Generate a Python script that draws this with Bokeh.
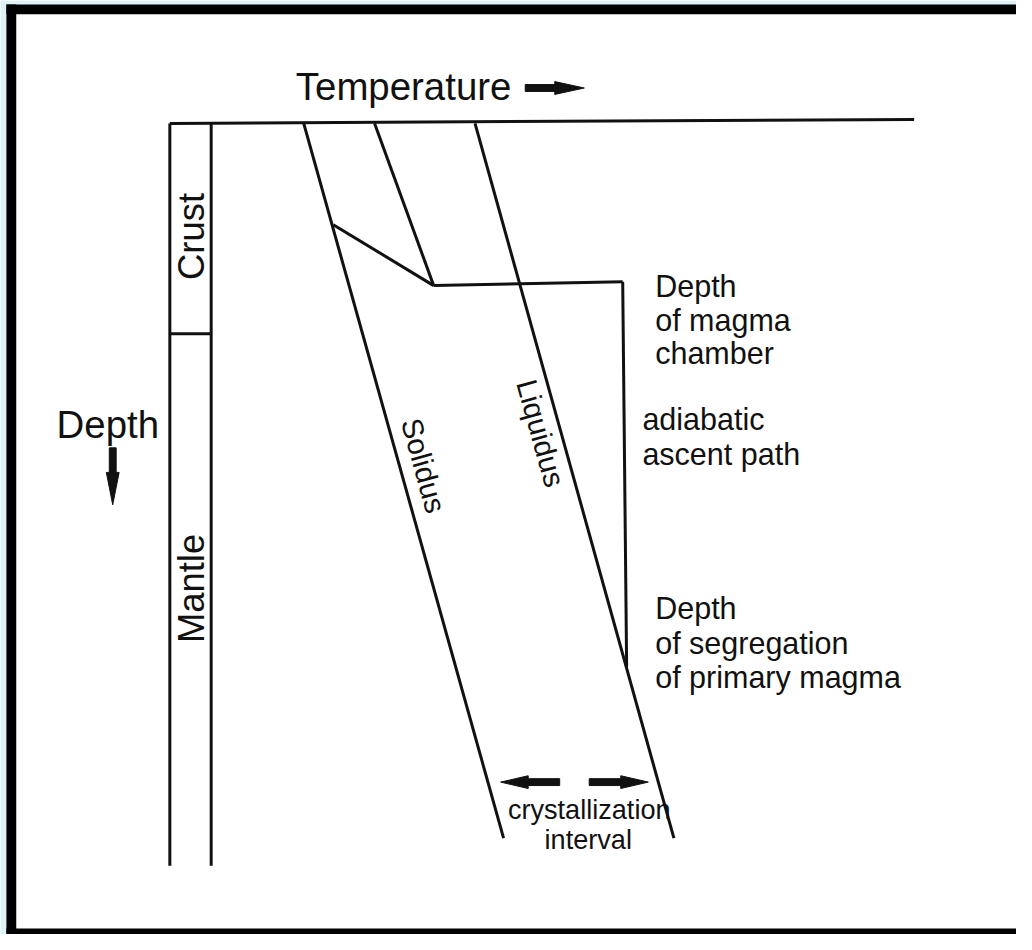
import math
from bokeh.plotting import figure
from bokeh.models import Range1d
from bokeh.core.properties import value
from bokeh.embed import file_html
from bokeh.resources import INLINE

FONT = "Liberation Sans"
INK = "#111111"
W, H = 1016, 934
REF_W, REF_H = 1032, 950
S = W / REF_W  # font scale so that the drawing maps onto the reference frame


def px(n):
    return f"{n * S:.1f}px"

# ---- diagram data (reference pixel coordinates; depth increases downward) ----
column_x = [172, 214]
column_top = [125, 125]
column_bottom = [880, 880]
crust_base = 339

surface_x = [172, 928]
surface_y = [125, 121]

solidus_x = [308, 511]
solidus_y = [125, 852]
liquidus_x = [482, 684]
liquidus_y = [125, 852]
upper_x = [380, 440]
upper_y = [125, 290]
kink_x = [338, 440]
kink_y = [228, 290]
chamber_x = [440, 632]
chamber_y = [290, 286]
ascent_x = [632, 636]
ascent_y = [286, 678]

# arrows: tail x, tail y, tip x, tip y, body half width, head length, head half width
arrow_tail_x = [533, 114, 568, 598]
arrow_tail_y = [89, 455, 795, 795]
arrow_tip_x = [593, 114, 508, 658]
arrow_tip_y = [89, 513, 795, 795]
arrow_body = [3.5, 3.5, 3.5, 3.5]
arrow_head_len = [30, 33, 28, 28]
arrow_head_half = [6.5, 6.5, 6.5, 6.5]

# labels
right_labels = ["Depth", "of magma", "chamber", "adiabatic", "ascent path",
                "Depth", "of segregation", "of primary magma"]
right_x = [665, 665, 665, 652, 652, 665, 665, 665]
right_y = [290, 325, 359, 426, 461, 618, 653, 688]

p = figure(width=W, height=H, output_backend="svg", toolbar_location=None,
           x_range=Range1d(0, REF_W), y_range=Range1d(REF_H, 0),
           min_border=0, background_fill_color="white", border_fill_color="white")
p.axis.visible = False
p.grid.visible = False
p.outline_line_color = None

# outer light frame and black border
p.quad(left=[0, 0], right=[6, REF_W], top=[0, 0], bottom=[REF_H, 4],
       fill_color="#dcf2f7", line_color=None)
p.quad(left=[6, 6, 6], right=[16, REF_W, REF_W], top=[4, 4, 944], bottom=[REF_H, 14, REF_H],
       fill_color="black", line_color=None)

LW = 3
# crust / mantle column
for cx in column_x:
    p.line([cx, cx], [column_top[0], column_bottom[0]], line_color=INK, line_width=LW)
p.line(column_x, [crust_base, crust_base], line_color=INK, line_width=LW)

for xs, ys in [(surface_x, surface_y), (solidus_x, solidus_y), (liquidus_x, liquidus_y),
               (upper_x, upper_y), (kink_x, kink_y), (chamber_x, chamber_y),
               (ascent_x, ascent_y)]:
    p.line(xs, ys, line_color=INK, line_width=LW, line_join="miter")

# arrows as polygons
pxs, pys = [], []
for tx, ty, hx, hy, bw, hl, hw in zip(arrow_tail_x, arrow_tail_y, arrow_tip_x, arrow_tip_y,
                                     arrow_body, arrow_head_len, arrow_head_half):
    L = math.hypot(hx - tx, hy - ty)
    ux, uy = (hx - tx) / L, (hy - ty) / L
    nx, ny = -uy, ux
    bx, by = hx - ux * hl, hy - uy * hl
    pts = [(tx + nx * bw, ty + ny * bw), (bx + nx * bw, by + ny * bw),
           (bx + nx * hw, by + ny * hw), (hx, hy),
           (bx - nx * hw, by - ny * hw), (bx - nx * bw, by - ny * bw),
           (tx - nx * bw, ty - ny * bw)]
    pxs.append([q[0] for q in pts])
    pys.append([q[1] for q in pts])
p.patches(pxs, pys, fill_color=INK, line_color=INK, line_width=1)

# axis words
p.text(x=[300], y=[87], text=["Temperature"], text_font=value(FONT), text_font_size=px(39),
       text_color=INK, text_baseline="middle", text_align="left")
p.text(x=[57], y=[431], text=["Depth"], text_font=value(FONT), text_font_size=px(39),
       text_color=INK, text_baseline="middle", text_align="left")

# column labels (rotated, reading upward)
p.text(x=[194, 194], y=[240, 598], text=["Crust", "Mantle"], angle=math.pi / 2,
       text_font=value(FONT), text_font_size=px(37), text_color=INK,
       text_baseline="middle", text_align="center")

# curve labels (rotated along the curves)
ang = -math.atan2(solidus_y[1] - solidus_y[0], solidus_x[1] - solidus_x[0])
p.text(x=[430, 549], y=[473, 440], text=["Solidus", "Liquidus"], angle=ang,
       text_font=value(FONT), text_font_size=px(30), text_color=INK,
       text_baseline="middle", text_align="center")

# right-hand annotations
p.text(x=right_x, y=right_y, text=right_labels, text_font=value(FONT), text_font_size=px(31),
       text_color=INK, text_baseline="middle", text_align="left")

# crystallization interval
p.text(x=[598, 597], y=[823, 853], text=["crystallization", "interval"],
       text_font=value(FONT), text_font_size=px(27.5), text_color=INK,
       text_baseline="middle", text_align="center")

open("out.html", "w").write(file_html(p, INLINE))
